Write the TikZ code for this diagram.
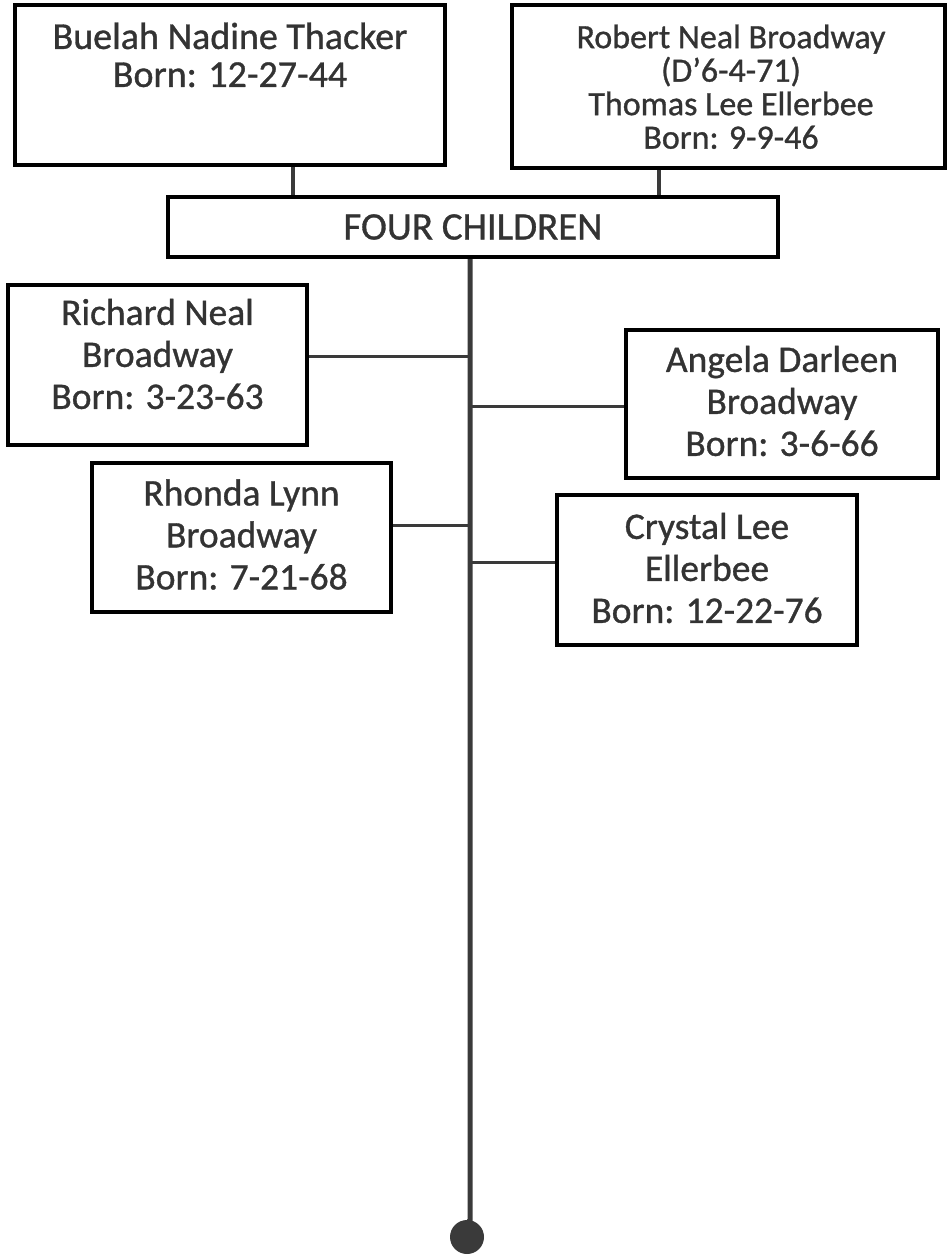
\documentclass[tikz,border=0pt]{standalone}
\usepackage{fontspec}
\setmainfont{Carlito}[FakeBold=0.9]
\definecolor{ink}{HTML}{333333}
\definecolor{wire}{HTML}{3A3A3A}
\begin{document}
\begin{tikzpicture}[x=1pt,y=-1pt,
  box/.style={draw=black,line width=4pt,minimum width=#1,inner sep=0pt},
  person/.style={text=ink,align=center,font=\fontsize{37.5}{42}\selectfont},
  small/.style={text=ink,align=center,font=\fontsize{34}{33.5}\selectfont},
  wire/.style={draw=wire,line width=3pt},
  trunk/.style={draw=wire,line width=5pt}]
\useasboundingbox (0,0) rectangle (948,1257);
% parents
\node[box=430pt,minimum height=160pt] (buelah) at (230,85) {};
\node[person,anchor=north,font=\fontsize{38}{38}\selectfont] (buelahtxt) at (230,19) {Buelah Nadine Thacker\\Born: 12-27-44};
\node[box=433pt,minimum height=163pt] (robert) at (728.5,86.5) {};
\node[small,anchor=north] (roberttxt) at (731,21) {Robert Neal Broadway\\(D'6-4-71)\\Thomas Lee Ellerbee\\Born: 9-9-46};
% children header
\node[box=610pt,minimum height=60pt,text=ink,font=\fontsize{39}{40}\selectfont] (four) at (473,227) {FOUR CHILDREN};
\coordinate (stemA) at ([xshift=63pt]buelah.south);
\coordinate (stemB) at ([xshift=-70pt]robert.south);
\draw[wire,line width=4pt] (stemA) -- (four.north -| stemA);
\draw[wire,line width=4pt] (stemB) -- (four.north -| stemB);
% children (text sits a little above each box's centre)
\node[box=299pt,minimum height=160pt] (richard) at (157.5,365) {};
\node[person] at ([yshift=11pt]richard.center) {Richard Neal\\Broadway\\Born: 3-23-63};
\node[box=312pt,minimum height=148pt] (angela) at (782,404) {};
\node[person] at ([yshift=3pt]angela.center) {Angela Darleen\\Broadway\\Born: 3-6-66};
\node[box=299pt,minimum height=149pt] (rhonda) at (241.5,537.5) {};
\node[person] at ([yshift=3pt]rhonda.center) {Rhonda Lynn\\Broadway\\Born: 7-21-68};
\node[box=300pt,minimum height=150pt] (crystal) at (707,570) {};
\node[person] at ([yshift=2pt]crystal.center) {Crystal Lee\\Ellerbee\\Born: 12-22-76};
% trunk and end
\node[circle,fill=wire,minimum size=34pt,inner sep=0pt] (bulb) at (467,1237) {};
\coordinate (trunktop) at (four.south -| 470,0);
\coordinate (trunkbot) at (470,1222);
\draw[trunk] (trunktop) -- (trunkbot) -- (bulb.north);
\coordinate (jR) at (470,356);
\coordinate (jA) at (470,406);
\coordinate (jH) at (470,525);
\coordinate (jC) at (470,562);
\draw[wire] (richard.east |- jR) -- (jR);
\draw[wire] (angela.west |- jA) -- (jA);
\draw[wire] (rhonda.east |- jH) -- (jH);
\draw[wire] (crystal.west |- jC) -- (jC);
\end{tikzpicture}
\end{document}
